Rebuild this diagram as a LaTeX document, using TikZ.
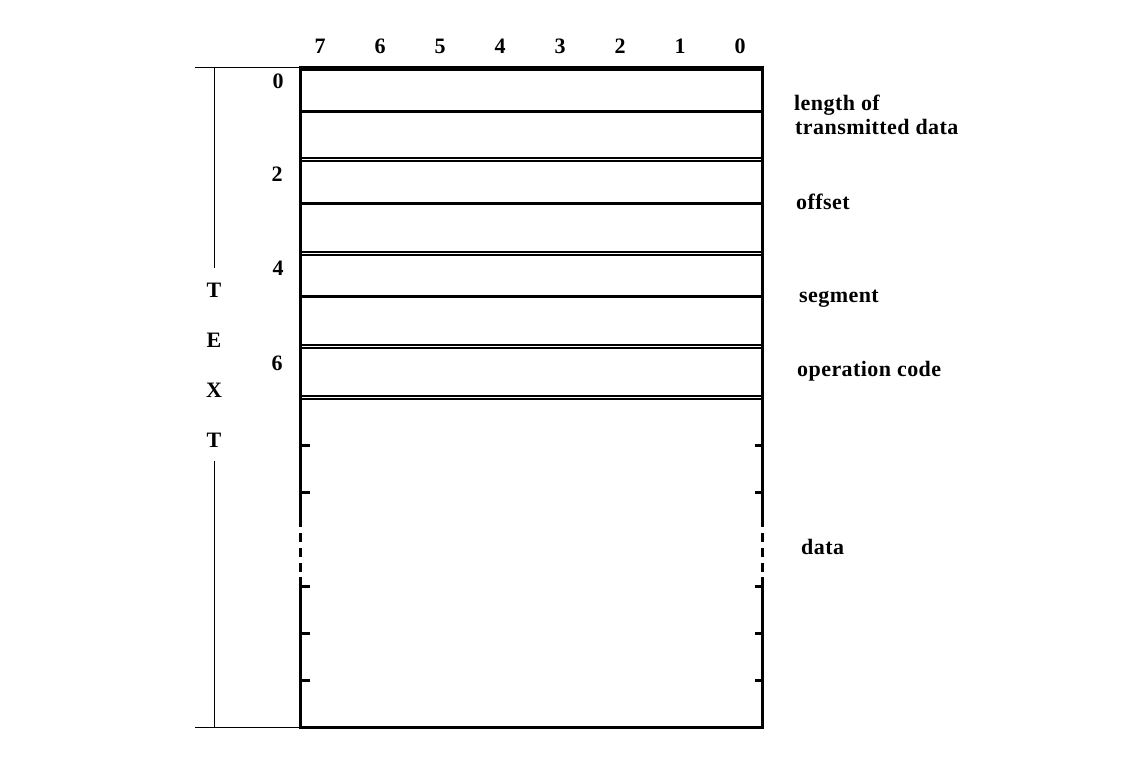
\documentclass[tikz,border=0pt]{standalone}
\usepackage{fontspec}
\setmainfont{Liberation Serif}[LetterSpace=2]
\begin{document}
\begin{tikzpicture}[x=1pt,y=-1pt,
  lbl/.style={font=\fontsize{22}{26}\selectfont\bfseries, inner sep=0pt},
  sidelbl/.style={lbl, anchor=base west},
  thickln/.style={line width=3pt},
  dblln/.style={line width=1.7pt},
  thinln/.style={line width=1pt},
  dashln/.style={line width=3pt, dash pattern=on 9pt off 6pt}]
\useasboundingbox (0,0) rectangle (1124,766);
% column headers
\foreach \b [count=\i from 0] in {7,6,5,4,3,2,1,0}
  \node[lbl, anchor=base] (c\b) at ({320+60*\i},53) {\b};
% row numbers
\node[lbl, anchor=base] (r0) at (278,88) {0};
\node[lbl, anchor=base] (r2) at (277,181) {2};
\node[lbl, anchor=base] (r4) at (278,275) {4};
\node[lbl, anchor=base] (r6) at (277,370) {6};
% TEXT letters
\node[lbl, anchor=base] (t1) at (214,297) {T};
\node[lbl, anchor=base] (t2) at (214,347) {E};
\node[lbl, anchor=base] (t3) at (214,397) {X};
\node[lbl, anchor=base] (t4) at (214,447) {T};
% side labels
\node[sidelbl] (len1) at (794,110) {length of};
\node[sidelbl] (len2) at (795,134) {transmitted data};
\node[sidelbl] (off) at (796,209) {offset};
\node[sidelbl] (seg) at (799,302) {segment};
\node[sidelbl] (opc) at (797,376) {operation code};
\node[sidelbl] (dat) at (801,554) {data};
% box outline
\draw[thickln] (300,67) -- (762,67);
\draw[dblln] (300,70) -- (762,70);
\draw[thickln] (300,65.5) -- (300,518);
\draw[thickln] (762,65.5) -- (762,518);
\draw[dashln] (300,518) -- (300,577);
\draw[dashln] (762,518) -- (762,577);
\draw[thickln] (300,577) -- (300,728.5);
\draw[thickln] (762,577) -- (762,728.5);
\draw[thickln] (300,727) -- (762,727);
% row separators
\draw[thickln] (300,111) -- (762,111);
\draw[thickln] (300,203) -- (762,203);
\draw[thickln] (300,296.5) -- (762,296.5);
\foreach \y in {158.3,251.7,345.3,395.8}{
  \draw[dblln] (300,\y) -- (762,\y);
  \draw[dblln] (300,\y+3) -- (762,\y+3);
}
% ticks in data area
\foreach \y in {445,492,586,633,680}{
  \draw[thickln] (300,\y) -- (310,\y);
  \draw[thickln] (762,\y) -- (755,\y);
}
% TEXT bracket
\draw[thinln] (195,67) -- (300,67);
\draw[thinln] (195,727) -- (300,727);
\draw[thinln] (214,67) -- (214,268);
\draw[thinln] (214,461) -- (214,727);
\end{tikzpicture}
\end{document}
